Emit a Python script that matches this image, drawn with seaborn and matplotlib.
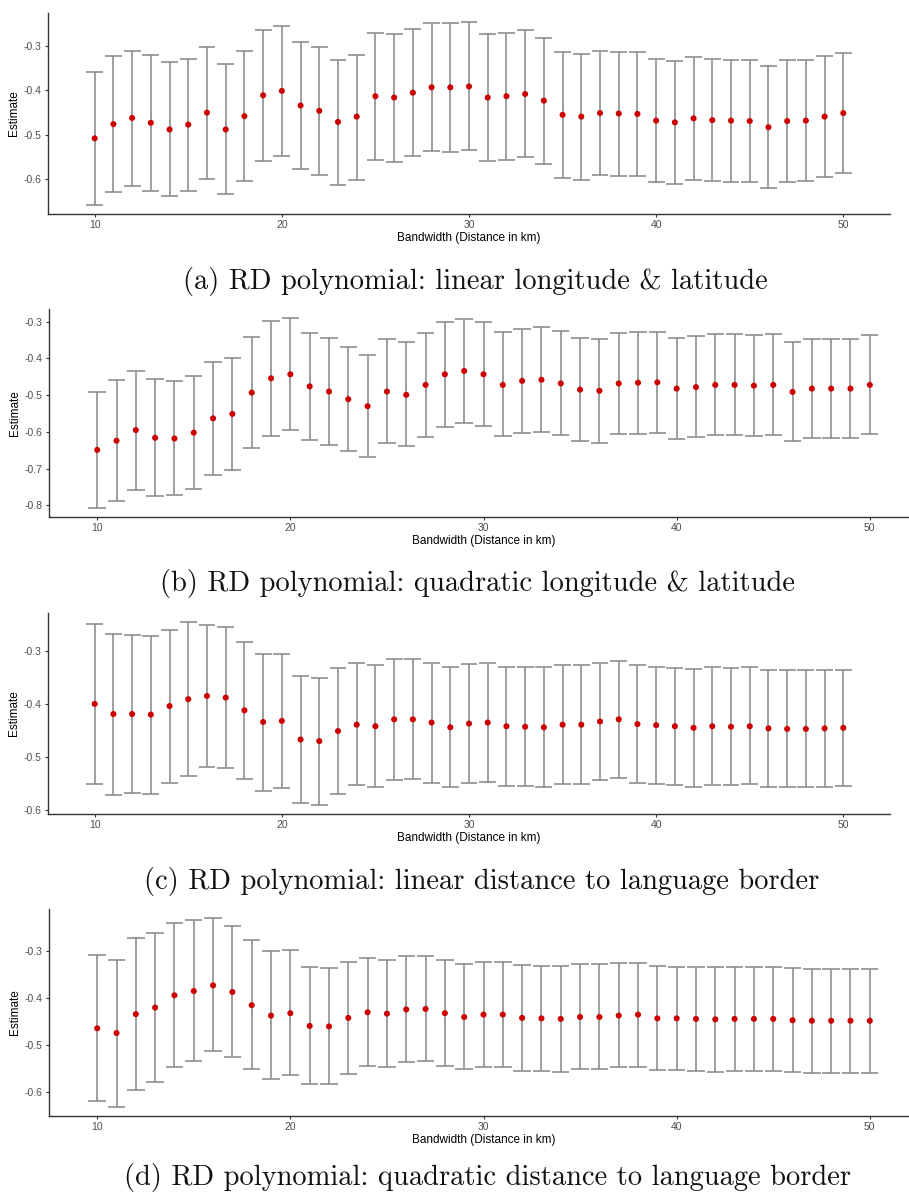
import matplotlib
matplotlib.use("Agg")
import matplotlib.pyplot as plt
import seaborn as sns
import pandas as pd

sns.set_theme(style="ticks")
plt.rcParams['font.family'] = ['Liberation Sans', 'DejaVu Sans']

bandwidth = [10, 11, 12, 13, 14, 15, 16, 17, 18, 19, 20, 21, 22, 23, 24, 25, 26, 27, 28, 29,
             30, 31, 32, 33, 34, 35, 36, 37, 38, 39, 40, 41, 42, 43, 44, 45, 46, 47, 48, 49, 50]

est_a = [-0.508, -0.476, -0.462, -0.473, -0.488, -0.477, -0.450, -0.488, -0.458, -0.411,
         -0.401, -0.434, -0.446, -0.471, -0.459, -0.413, -0.416, -0.405, -0.393, -0.393,
         -0.391, -0.416, -0.413, -0.408, -0.423, -0.455, -0.459, -0.451, -0.452, -0.453,
         -0.468, -0.472, -0.463, -0.467, -0.468, -0.469, -0.483, -0.469, -0.468, -0.459,
         -0.451]
up_a = [-0.358, -0.322, -0.310, -0.319, -0.337, -0.328, -0.301, -0.341, -0.312, -0.263,
        -0.254, -0.290, -0.303, -0.331, -0.319, -0.270, -0.273, -0.261, -0.248, -0.248,
        -0.246, -0.273, -0.270, -0.264, -0.281, -0.314, -0.317, -0.312, -0.313, -0.314,
        -0.329, -0.334, -0.325, -0.329, -0.331, -0.331, -0.346, -0.332, -0.331, -0.322,
        -0.315]
lo_a = [-0.658, -0.629, -0.615, -0.626, -0.639, -0.627, -0.600, -0.634, -0.605, -0.560,
        -0.548, -0.578, -0.590, -0.613, -0.601, -0.557, -0.561, -0.548, -0.537, -0.538,
        -0.534, -0.560, -0.557, -0.551, -0.566, -0.597, -0.601, -0.591, -0.592, -0.592,
        -0.607, -0.610, -0.601, -0.605, -0.607, -0.607, -0.621, -0.607, -0.604, -0.595,
        -0.587]

est_b = [-0.649, -0.624, -0.595, -0.616, -0.618, -0.602, -0.563, -0.551, -0.493, -0.454,
         -0.443, -0.476, -0.490, -0.511, -0.530, -0.490, -0.499, -0.472, -0.443, -0.434,
         -0.443, -0.472, -0.461, -0.458, -0.468, -0.485, -0.488, -0.468, -0.466, -0.465,
         -0.482, -0.478, -0.472, -0.472, -0.474, -0.472, -0.491, -0.482, -0.482, -0.482,
         -0.472]
up_b = [-0.492, -0.459, -0.433, -0.457, -0.462, -0.449, -0.409, -0.399, -0.342, -0.298,
        -0.291, -0.330, -0.345, -0.369, -0.391, -0.348, -0.356, -0.331, -0.301, -0.292,
        -0.301, -0.329, -0.319, -0.315, -0.326, -0.345, -0.348, -0.331, -0.329, -0.329,
        -0.345, -0.339, -0.333, -0.334, -0.336, -0.334, -0.354, -0.346, -0.346, -0.347,
        -0.335]
lo_b = [-0.806, -0.789, -0.757, -0.775, -0.773, -0.755, -0.717, -0.704, -0.645, -0.610,
        -0.594, -0.623, -0.635, -0.652, -0.668, -0.631, -0.639, -0.613, -0.586, -0.577,
        -0.585, -0.612, -0.603, -0.600, -0.609, -0.626, -0.629, -0.607, -0.605, -0.604,
        -0.619, -0.615, -0.609, -0.609, -0.611, -0.609, -0.626, -0.617, -0.617, -0.616,
        -0.606]

est_c = [-0.400, -0.419, -0.419, -0.420, -0.404, -0.391, -0.385, -0.388, -0.412, -0.434,
         -0.432, -0.467, -0.470, -0.451, -0.439, -0.442, -0.429, -0.429, -0.435, -0.444,
         -0.437, -0.435, -0.442, -0.443, -0.444, -0.439, -0.439, -0.433, -0.429, -0.438,
         -0.440, -0.442, -0.445, -0.442, -0.443, -0.442, -0.446, -0.447, -0.447, -0.446,
         -0.445]
up_c = [-0.250, -0.268, -0.271, -0.272, -0.260, -0.246, -0.251, -0.256, -0.283, -0.306,
        -0.306, -0.347, -0.351, -0.333, -0.323, -0.327, -0.316, -0.316, -0.323, -0.331,
        -0.324, -0.323, -0.330, -0.331, -0.331, -0.326, -0.326, -0.322, -0.319, -0.327,
        -0.330, -0.332, -0.335, -0.331, -0.332, -0.331, -0.337, -0.337, -0.337, -0.337,
        -0.337]
lo_c = [-0.551, -0.571, -0.568, -0.569, -0.548, -0.535, -0.519, -0.520, -0.541, -0.563,
        -0.558, -0.587, -0.590, -0.569, -0.553, -0.556, -0.543, -0.542, -0.549, -0.556,
        -0.549, -0.547, -0.554, -0.555, -0.556, -0.550, -0.550, -0.544, -0.540, -0.548,
        -0.551, -0.553, -0.556, -0.552, -0.553, -0.551, -0.556, -0.557, -0.557, -0.556,
        -0.555]

est_d = [-0.464, -0.474, -0.434, -0.420, -0.394, -0.385, -0.373, -0.387, -0.415, -0.437,
         -0.432, -0.459, -0.460, -0.442, -0.430, -0.433, -0.424, -0.423, -0.432, -0.440,
         -0.435, -0.435, -0.442, -0.443, -0.444, -0.440, -0.440, -0.437, -0.435, -0.443,
         -0.443, -0.444, -0.445, -0.444, -0.444, -0.444, -0.447, -0.448, -0.448, -0.448,
         -0.448]
up_d = [-0.309, -0.319, -0.272, -0.261, -0.240, -0.234, -0.231, -0.247, -0.277, -0.300,
        -0.298, -0.335, -0.337, -0.323, -0.315, -0.320, -0.311, -0.311, -0.320, -0.327,
        -0.323, -0.323, -0.330, -0.331, -0.332, -0.328, -0.328, -0.326, -0.325, -0.332,
        -0.333, -0.334, -0.335, -0.335, -0.335, -0.335, -0.337, -0.339, -0.339, -0.339,
        -0.339]
lo_d = [-0.619, -0.630, -0.595, -0.578, -0.547, -0.534, -0.513, -0.525, -0.551, -0.572,
        -0.563, -0.582, -0.582, -0.561, -0.543, -0.545, -0.535, -0.533, -0.544, -0.551,
        -0.547, -0.547, -0.554, -0.554, -0.556, -0.550, -0.550, -0.547, -0.546, -0.552,
        -0.552, -0.554, -0.556, -0.554, -0.554, -0.554, -0.556, -0.558, -0.558, -0.558,
        -0.558]

captions = [
    "(a) RD polynomial: linear longitude & latitude",
    "(b) RD polynomial: quadratic longitude & latitude",
    "(c) RD polynomial: linear distance to language border",
    "(d) RD polynomial: quadratic distance to language border",
]
x_ticks = [10, 20, 30, 40, 50]
y_ticks_a = [-0.3, -0.4, -0.5, -0.6]
y_ticks_b = [-0.3, -0.4, -0.5, -0.6, -0.7, -0.8]
y_ticks_c = [-0.3, -0.4, -0.5, -0.6]
y_ticks_d = [-0.3, -0.4, -0.5, -0.6]
x_label = "Bandwidth (Distance in km)"
y_label = "Estimate"

panels = [
    (est_a, up_a, lo_a, y_ticks_a),
    (est_b, up_b, lo_b, y_ticks_b),
    (est_c, up_c, lo_c, y_ticks_c),
    (est_d, up_d, lo_d, y_ticks_d),
]

W, H = 909, 1199
fig = plt.figure(figsize=(W / 100, H / 100), dpi=100)
fig.patch.set_facecolor("white")

# axes boxes in pixels: left, right, top, bottom
boxes = [(48, 890, 13, 214), (49, 918, 309, 517), (48, 890, 613, 814), (49, 918, 909, 1116)]
caption_y = [282, 583, 881, 1177]
caption_x = [475, 477, 482, 488]

err_col = "#8a8a8a"
pt_col = "#CC0000"
cap_half = 0.45

for (est, up, lo, yt), (l, r, t, b), cap, cy, cx in zip(panels, boxes, captions, caption_y, caption_x):
    ax = fig.add_axes([l / W, 1 - b / H, (r - l) / W, (b - t) / H])
    df = pd.DataFrame({"bw": bandwidth, "est": est, "up": up, "lo": lo})
    ax.vlines(df["bw"], df["lo"], df["up"], color=err_col, lw=1.15, zorder=1)
    ax.hlines(df["up"], df["bw"] - cap_half, df["bw"] + cap_half, color=err_col, lw=1.15, zorder=1)
    ax.hlines(df["lo"], df["bw"] - cap_half, df["bw"] + cap_half, color=err_col, lw=1.15, zorder=1)
    sns.scatterplot(data=df, x="bw", y="est", ax=ax, color=pt_col, s=19,
                    edgecolor="none", linewidth=0, zorder=3, legend=False)
    xmin = min(bandwidth) - cap_half
    xmax = max(bandwidth) + cap_half
    ex = 0.05 * (xmax - xmin)
    ax.set_xlim(xmin - ex, xmax + ex)
    ymin, ymax = min(lo), max(up)
    ey = 0.05 * (ymax - ymin)
    ax.set_ylim(ymin - ey, ymax + ey)
    ax.set_xticks(x_ticks)
    ax.set_xticklabels([str(v) for v in x_ticks])
    ax.set_yticks(yt)
    ax.set_yticklabels([f"{v:.1f}" for v in yt])
    ax.tick_params(axis="both", labelsize=7.5, labelcolor="#4d4d4d", color="#333333",
                   length=2.5, width=0.8, pad=2)
    for s in ["top", "right"]:
        ax.spines[s].set_visible(False)
    for s in ["left", "bottom"]:
        ax.spines[s].set_color("#333333")
        ax.spines[s].set_linewidth(1.0)
    ax.set_xlabel(x_label, fontsize=8.5, color="black", labelpad=1)
    ax.set_ylabel(y_label, fontsize=8.5, color="black", labelpad=3)
    ax.set_facecolor("white")
    fig.text(cx / W, 1 - cy / H, cap, ha="center", va="center",
             fontsize=20.5, family="cmr10", color="#111111")

fig.savefig("out.png", dpi=100, facecolor="white")
